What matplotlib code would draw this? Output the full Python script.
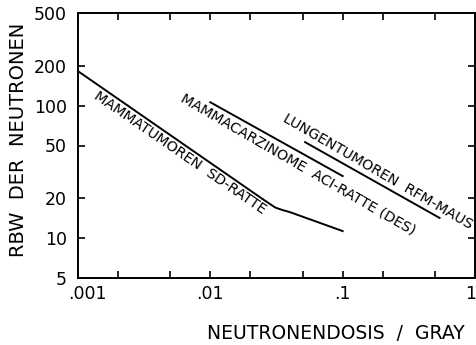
import numpy as np
import matplotlib
matplotlib.use('Agg')
import matplotlib.pyplot as plot
import matplotlib.transforms as mtransforms

# (log-log)
sd_dose = [0.001, 0.026, 0.031, 0.035, 0.04, 0.1]
sd_rbw = [182, 19.1, 17.0, 16.3, 15.7, 11.3]

aci_dose = [0.01, 0.1]
aci_rbw = [106, 29.4]

lung_dose = [0.052, 0.54]
lung_rbw = [53, 14.2]

x_major = [0.001, 0.01, 0.1, 1]
x_major_labels = ['.001', '.01', '.1', '1']
x_minor = [0.002, 0.005, 0.02, 0.05, 0.2, 0.5]
y_ticks = [5, 10, 20, 50, 100, 200, 500]
y_labels = ['5', '10', '20', '50', '100', '200', '500']

labels = ['MAMMATUMOREN  SD-RATTE', 'MAMMACARZINOME  ACI-RATTE (DES)', 'LUNGENTUMOREN  RFM-MAUS']
label_pos = [(0.0059, 43.9), (0.046, 36.2), (0.185, 31.5)]
label_rot = [-34.5, -30, -30]

figure = plot.figure(figsize=(4.76, 3.45), dpi=100)
ax = figure.add_axes([78 / 476, 67 / 345, 397 / 476, 265 / 345])

ax.plot(sd_dose, sd_rbw, color='black', lw=1.4)
ax.plot(aci_dose, aci_rbw, color='black', lw=1.4)
ax.plot(lung_dose, lung_rbw, color='black', lw=1.4)

for text, (px, py), rot in zip(labels, label_pos, label_rot):
    ax.text(px, py, text, rotation=rot, rotation_mode='anchor', ha='center', va='center',
            fontsize=10.3, color='black')

ax.set_xscale('log')
ax.set_yscale('log')
ax.set_xlim(0.001, 1)
ax.set_ylim(5, 500)

ax.set_xticks(x_major)
ax.set_xticklabels(x_major_labels)
ax.set_xticks(x_minor, minor=True)
ax.set_yticks(y_ticks)
ax.set_yticklabels(y_labels)
ax.set_yticks([], minor=True)

ax.tick_params(which='both', direction='in', length=5, width=1.2, top=True, right=True,
               labelsize=12.5)
ax.tick_params(axis='x', pad=5)
ax.tick_params(axis='y', pad=8)
for spine in ax.spines.values():
    spine.set_linewidth(1.4)

# nudge first and last x labels like in the scan
xlabels = ax.get_xticklabels()
xlabels[0].set_transform(xlabels[0].get_transform() +
                         mtransforms.ScaledTranslation(9 / 100, 0, figure.dpi_scale_trans))
xlabels[-1].set_transform(xlabels[-1].get_transform() +
                          mtransforms.ScaledTranslation(-4 / 100, 0, figure.dpi_scale_trans))

ax.set_ylabel('RBW  DER  NEUTRONEN', fontsize=14, va='center')
ax.yaxis.set_label_coords(-0.149, 0.52)
ax.set_xlabel('NEUTRONENDOSIS  /  GRAY', fontsize=13.5, loc='right', va='center')
ax.xaxis.set_label_coords(0.975, -0.208)

plot.savefig('out.png', dpi=100)
